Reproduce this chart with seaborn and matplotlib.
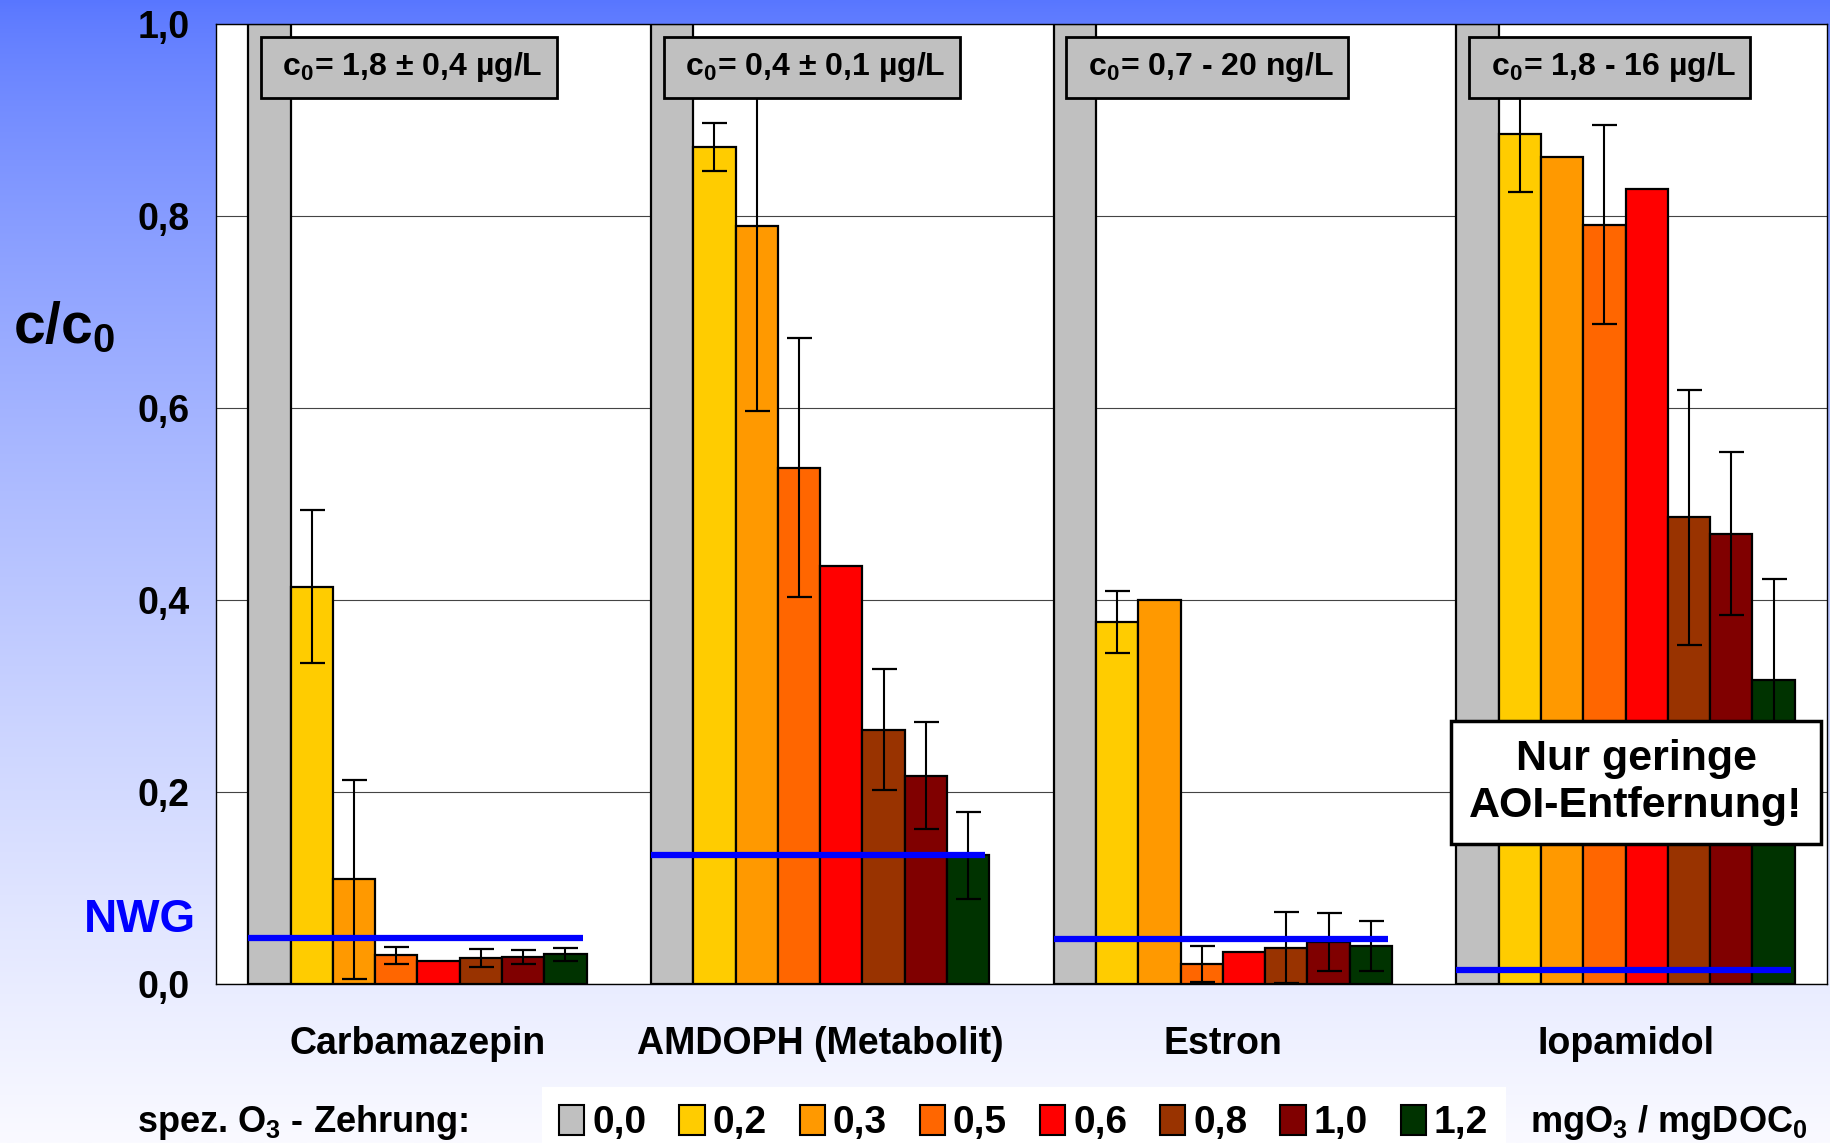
import numpy as np
import pandas as pd
import matplotlib
matplotlib.use("Agg")
import matplotlib.pyplot as plt
import seaborn as sns
from matplotlib.patches import Patch

# ---------------- data ----------------
categories = ["Carbamazepin", "AMDOPH (Metabolit)", "Estron", "Iopamidol"]
doses = ["0,0", "0,2", "0,3", "0,5", "0,6", "0,8", "1,0", "1,2"]
colors = ["#C0C0C0", "#FFCC00", "#FF9900", "#FF6600", "#FF0000", "#993300", "#800000", "#003300"]

carbamazepin = [1.0, 0.414, 0.109, 0.030, 0.024, 0.027, 0.028, 0.031]
carbamazepin_err = [0, 0.080, 0.104, 0.009, 0, 0.009, 0.007, 0.007]
amdoph = [1.0, 0.872, 0.790, 0.538, 0.435, 0.265, 0.217, 0.134]
amdoph_err = [0, 0.025, 0.193, 0.135, 0, 0.063, 0.056, 0.045]
estron = [1.0, 0.377, 0.400, 0.021, 0.033, 0.038, 0.044, 0.040]
estron_err = [0, 0.032, 0, 0.019, 0, 0.037, 0.030, 0.026]
iopamidol = [1.0, 0.885, 0.861, 0.791, 0.828, 0.486, 0.469, 0.317]
iopamidol_err = [0, 0.060, 0, 0.104, 0, 0.133, 0.085, 0.105]

nwg = [0.048, 0.134, 0.047, 0.015]
c0_labels = [" c$_0$= 1,8 ± 0,4 µg/L ", " c$_0$= 0,4 ± 0,1 µg/L ",
             " c$_0$= 0,7 - 20 ng/L ", " c$_0$= 1,8 - 16 µg/L "]
y_ticks = [0.0, 0.2, 0.4, 0.6, 0.8, 1.0]
y_ticklabels = ["0,0", "0,2", "0,4", "0,6", "0,8", "1,0"]

values = [carbamazepin, amdoph, estron, iopamidol]
errors = [carbamazepin_err, amdoph_err, estron_err, iopamidol_err]

rows = []
for ci, cat in enumerate(categories):
    for di, d in enumerate(doses):
        rows.append({"cat": cat, "dose": d, "val": values[ci][di], "err": errors[ci][di]})
df = pd.DataFrame(rows)

# ---------------- style ----------------
sns.set_style("white")
plt.rcParams["font.family"] = ["Liberation Sans", "DejaVu Sans"]
plt.rcParams["font.weight"] = "bold"
plt.rcParams["text.color"] = "black"
plt.rcParams["axes.labelcolor"] = "black"
plt.rcParams["xtick.color"] = "black"
plt.rcParams["ytick.color"] = "black"
plt.rcParams["mathtext.fontset"] = "custom"
plt.rcParams["mathtext.rm"] = "Liberation Sans:bold"
plt.rcParams["mathtext.it"] = "Liberation Sans:bold"
plt.rcParams["mathtext.bf"] = "Liberation Sans:bold"
plt.rcParams["mathtext.default"] = "rm"

W, H = 1831, 1143
fig = plt.figure(figsize=(W / 100, H / 100), dpi=100)

# gradient background
bg = fig.add_axes([0, 0, 1, 1], zorder=-10)
t = np.linspace(0, 1, 400) ** 0.75
top = np.array([88, 118, 255]) / 255.0
bot = np.array([250, 250, 255]) / 255.0
grad = top[None, :] * (1 - t[:, None]) + bot[None, :] * t[:, None]
bg.imshow(grad[:, None, :], aspect="auto", extent=[0, 1, 0, 1], origin="upper")
bg.axis("off")

L, R, T, B = 216, 1827, 24, 984
ax = fig.add_axes([L / W, 1 - B / H, (R - L) / W, (B - T) / H])
ax.set_facecolor("white")

sns.barplot(data=df, x="cat", y="val", hue="dose", order=categories, hue_order=doses,
            palette=colors, saturation=1, width=0.84, edgecolor="black", linewidth=1.6,
            errorbar=None, legend=False, ax=ax, zorder=2)

bar_containers = list(ax.containers)

# error bars
for di, cont in enumerate(bar_containers):
    for ci, bar in enumerate(cont):
        e = errors[ci][di]
        if e > 0:
            xc = bar.get_x() + bar.get_width() / 2
            ax.errorbar([xc], [values[ci][di]], yerr=[e], fmt="none", ecolor="black",
                        elinewidth=1.5, capsize=9, capthick=1.6, zorder=5)

# NWG lines
for ci in range(len(categories)):
    ax.hlines(nwg[ci], ci - 0.42, ci + 0.41, color="#0000FF", lw=4.5, zorder=6)

ax.set_xlim(-0.5, 3.5)
ax.set_ylim(0, 1.0)
ax.set_yticks(y_ticks)
ax.set_yticklabels(y_ticklabels, fontsize=27, fontweight="bold")
ax.set_xticks(range(len(categories)))
ax.set_xticklabels(categories, fontsize=27, fontweight="bold")
ax.set_xticks([-0.5, 0.5, 1.5, 2.5, 3.5], minor=True)
ax.tick_params(axis="x", which="major", length=0, pad=30)
ax.tick_params(axis="x", which="minor", length=9, width=1, direction="out", color="#333333")
ax.tick_params(axis="y", length=9, width=1, direction="out", pad=10, color="black")
ax.set_xlabel("")
ax.set_ylabel("")
ax.yaxis.grid(True, color="#444444", lw=0.8)
ax.xaxis.grid(False)
ax.set_axisbelow(True)
for s in ax.spines.values():
    s.set_color("black")
    s.set_linewidth(1.0)
    s.set_visible(True)

# c0 label boxes
for ci, lab in enumerate(c0_labels):
    ax.text(ci - 0.5 + 0.145, 0.955, lab, ha="left", va="center", fontsize=23,
            fontweight="bold", zorder=10,
            bbox=dict(boxstyle="square,pad=0.42", fc="#C0C0C0", ec="black", lw=2))

# AOI annotation
ax.text(3.026, 0.210, "Nur geringe\nAOI-Entfernung!", ha="center", va="center",
        fontsize=31, fontweight="bold", linespacing=1.2, zorder=10,
        bbox=dict(boxstyle="square,pad=0.42", fc="white", ec="black", lw=2.5))

# axis annotations
ax.text(-0.689, 0.067, "NWG", color="#0000FF", fontsize=33, fontweight="bold",
        ha="center", va="center", clip_on=False)
ax.text(-0.877, 0.684, "c/c$_0$", color="black", fontsize=41, fontweight="bold",
        ha="center", va="center", clip_on=False)

# legend
handles = [Patch(facecolor=c, edgecolor="black", linewidth=1.5) for c in colors]
leg = fig.legend(handles, doses, ncol=len(doses), loc="center",
                 bbox_to_anchor=(0.559, 0.0175), frameon=True, facecolor="white",
                 edgecolor="none", fancybox=False, framealpha=1,
                 prop={"size": 28, "weight": "bold"},
                 handlelength=0.65, handleheight=0.8, handletextpad=0.2,
                 columnspacing=0.85, borderpad=0.45)

fig.text(137 / W, 0.0175, "spez. O$_3$ - Zehrung:", fontsize=26, fontweight="bold",
         ha="left", va="center")
fig.text(1530 / W, 0.0175, "mgO$_3$ / mgDOC$_0$", fontsize=26, fontweight="bold",
         ha="left", va="center")

fig.savefig("out.png", dpi=100)
